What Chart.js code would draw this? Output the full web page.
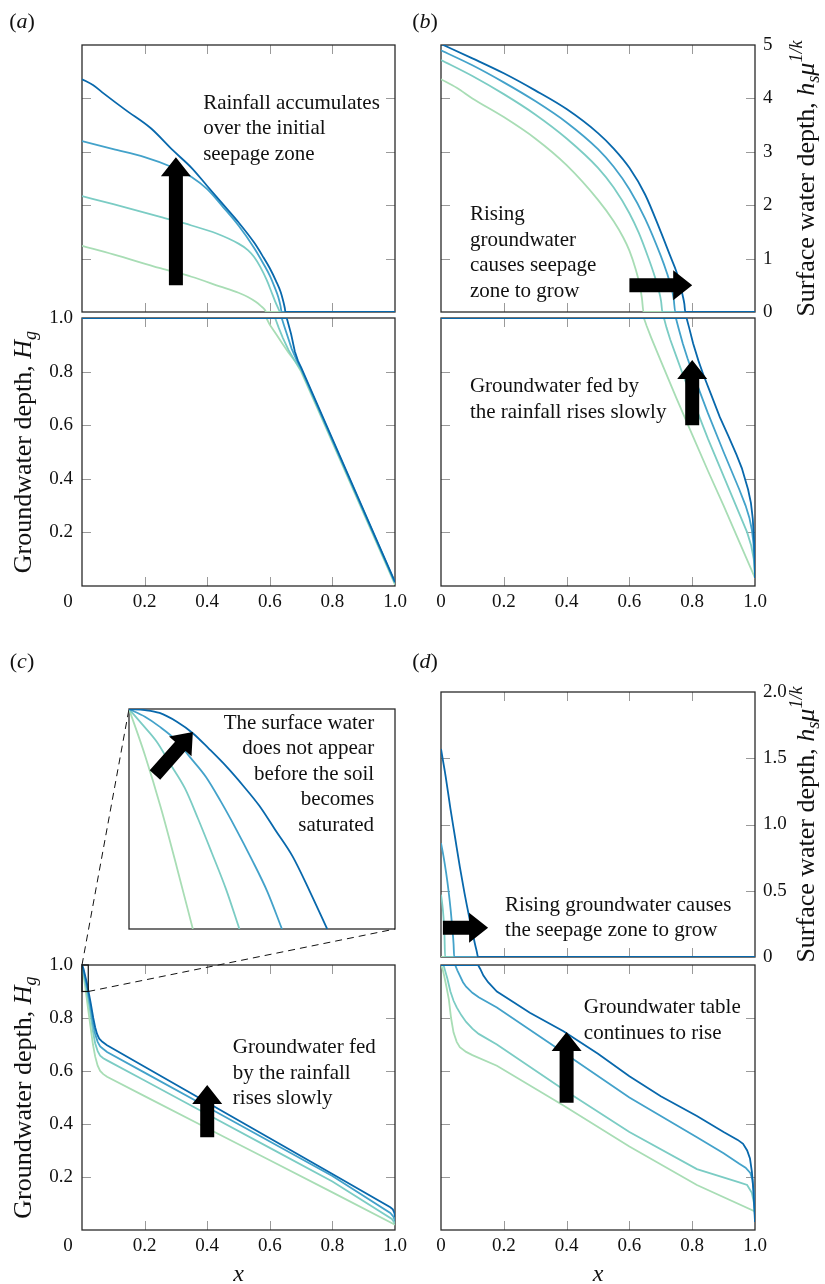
<!DOCTYPE html>
<html>
<head>
<meta charset="utf-8">
<script src="https://cdn.jsdelivr.net/npm/chart.js@4.4.1/dist/chart.umd.min.js"></script>
<style>
  body { margin: 0; background: #fff; }
  #wrap { position: relative; width: 825px; height: 1284px; }
  #wrap canvas { position: absolute; left: 0; top: 0; }
</style>
</head>
<body>
<div id="wrap">
  <canvas id="aTop" width="825" height="1284"></canvas>
  <canvas id="aBot" width="825" height="1284"></canvas>
  <canvas id="bTop" width="825" height="1284"></canvas>
  <canvas id="bBot" width="825" height="1284"></canvas>
  <canvas id="cBot" width="825" height="1284"></canvas>
  <canvas id="cIn" width="825" height="1284"></canvas>
  <canvas id="dTop" width="825" height="1284"></canvas>
  <canvas id="dBot" width="825" height="1284"></canvas>
</div>
<script>
// four times, earliest (light green) to latest (dark blue)
const seriesColors = ['#a8ddb5', '#7bccc4', '#43a2ca', '#0868ac'];

// (a) surface water depth, [x, h]
const aTopS1 = [[0,1.24],[0.1,1.08],[0.25,0.82],[0.35,0.66],[0.44,0.48],[0.5,0.36],[0.53,0.28],[0.555,0.19],[0.572,0.11],[0.583,0.05],[0.589,0],[1,0]];
const aTopS2 = [[0,2.17],[0.1,2.02],[0.25,1.78],[0.35,1.62],[0.43,1.47],[0.5,1.28],[0.53,1.16],[0.55,1.03],[0.57,0.84],[0.59,0.6],[0.605,0.38],[0.617,0.2],[0.627,0.07],[0.633,0],[1,0]];
const aTopS3 = [[0,3.2],[0.1,3.05],[0.2,2.9],[0.285,2.72],[0.35,2.53],[0.4,2.3],[0.45,1.97],[0.5,1.62],[0.55,1.2],[0.58,0.9],[0.6,0.68],[0.615,0.47],[0.627,0.28],[0.634,0.12],[0.638,0],[1,0]];
const aTopS4 = [[0,4.36],[0.035,4.25],[0.07,4.09],[0.14,3.78],[0.22,3.44],[0.29,3.03],[0.35,2.7],[0.4,2.36],[0.45,2.02],[0.5,1.68],[0.55,1.3],[0.58,1.02],[0.6,0.82],[0.62,0.58],[0.635,0.37],[0.643,0.2],[0.648,0.07],[0.65,0],[1,0]];
// (a) groundwater depth
const aBotS1 = [[0,1],[0.589,1],[0.6,0.975],[0.62,0.94],[0.64,0.905],[0.66,0.87],[0.68,0.84],[0.7,0.8],[0.75,0.668],[1,0.005]];
const aBotS2 = [[0,1],[0.617,1],[0.628,0.965],[0.642,0.925],[0.66,0.88],[0.68,0.84],[0.7,0.806],[1,0.01]];
const aBotS3 = [[0,1],[0.638,1],[0.646,0.97],[0.656,0.935],[0.67,0.885],[0.685,0.845],[0.7,0.811],[1,0.013]];
const aBotS4 = [[0,1],[0.654,1],[0.66,0.975],[0.668,0.94],[0.68,0.875],[0.69,0.84],[0.7,0.816],[1,0.015]];

// (b)
const bTopS1 = [[0,4.36],[0.05,4.2],[0.1,4.0],[0.2,3.65],[0.3,3.25],[0.4,2.75],[0.5,2.1],[0.55,1.7],[0.58,1.4],[0.6,1.15],[0.62,0.8],[0.633,0.5],[0.64,0.25],[0.645,0],[1,0]];
const bTopS2 = [[0,4.72],[0.1,4.42],[0.2,4.08],[0.3,3.7],[0.4,3.25],[0.5,2.7],[0.55,2.33],[0.6,1.85],[0.63,1.48],[0.66,1.02],[0.68,0.68],[0.693,0.42],[0.701,0.2],[0.705,0],[1,0]];
const bTopS3 = [[0,4.9],[0.1,4.62],[0.2,4.3],[0.3,3.95],[0.4,3.55],[0.5,3.05],[0.55,2.72],[0.6,2.3],[0.65,1.75],[0.7,1.05],[0.72,0.72],[0.733,0.47],[0.741,0.25],[0.746,0],[1,0]];
const bTopS4 = [[0,5.02],[0.1,4.75],[0.2,4.47],[0.3,4.15],[0.4,3.8],[0.5,3.35],[0.55,3.06],[0.6,2.7],[0.65,2.2],[0.7,1.5],[0.73,1.05],[0.75,0.75],[0.762,0.5],[0.77,0.3],[0.775,0.15],[0.778,0],[1,0]];
const bBotS1 = [[0,1],[0.646,1],[0.655,0.97],[0.67,0.925],[0.7,0.84],[0.75,0.7],[0.8,0.565],[0.85,0.43],[0.9,0.3],[0.95,0.165],[1,0.03]];
const bBotS2 = [[0,1],[0.71,1],[0.718,0.965],[0.73,0.92],[0.75,0.855],[0.77,0.79],[0.8,0.7],[0.85,0.55],[0.9,0.41],[0.95,0.27],[0.975,0.2],[0.988,0.15],[0.996,0.1],[1,0.04]];
const bBotS3 = [[0,1],[0.748,1],[0.757,0.96],[0.77,0.905],[0.785,0.85],[0.8,0.8],[0.85,0.645],[0.9,0.5],[0.95,0.36],[0.97,0.3],[0.982,0.255],[0.99,0.21],[0.995,0.16],[0.998,0.1],[1,0.03]];
const bBotS4 = [[0,1],[0.782,1],[0.79,0.965],[0.803,0.905],[0.82,0.84],[0.835,0.79],[0.86,0.715],[0.888,0.63],[0.915,0.56],[0.941,0.49],[0.958,0.44],[0.968,0.4],[0.978,0.36],[0.987,0.31],[0.993,0.25],[0.997,0.17],[0.9995,0.08],[1,0.03]];

// (c) inset: zoom of x 0..0.02, H 0.9..1.0
const cInS1 = [[0,1],[0.0012,0.979],[0.0024,0.955],[0.0036,0.928],[0.0048,0.9]];
const cInS2 = [[0,1],[0.001,0.993],[0.0021,0.985],[0.0031,0.975],[0.0042,0.964],[0.0052,0.95],[0.0062,0.935],[0.0073,0.918],[0.0083,0.9]];
const cInS3 = [[0,1],[0.0012,0.9965],[0.0023,0.992],[0.0035,0.986],[0.0046,0.978],[0.0058,0.969],[0.0069,0.958],[0.008,0.946],[0.0092,0.932],[0.0104,0.917],[0.0115,0.9]];
const cInS4 = [[0,1],[0.0012,0.9995],[0.0023,0.9982],[0.0036,0.9942],[0.0048,0.989],[0.006,0.982],[0.0073,0.974],[0.0086,0.965],[0.0098,0.956],[0.011,0.945],[0.0123,0.933],[0.0136,0.917],[0.0149,0.9]];
const zoomBoxX = [0, 0.02];
const zoomBoxY = [0.9, 1.0];
const cBotS1 = [[0,1],[0.005,0.96],[0.01,0.92],[0.015,0.875],[0.02,0.83],[0.028,0.76],[0.035,0.7],[0.042,0.655],[0.05,0.62],[0.058,0.6],[0.068,0.588],[0.08,0.578],[0.2,0.505],[0.4,0.384],[0.6,0.263],[0.8,0.142],[1,0.02]];
const cBotS2 = [[0,1],[0.005,0.97],[0.01,0.94],[0.015,0.905],[0.02,0.87],[0.028,0.81],[0.035,0.75],[0.042,0.705],[0.05,0.675],[0.058,0.658],[0.068,0.648],[0.08,0.64],[0.2,0.564],[0.4,0.437],[0.6,0.31],[0.8,0.183],[0.99,0.042],[1,0.025]];
const cBotS3 = [[0,1],[0.005,0.975],[0.01,0.95],[0.015,0.92],[0.02,0.89],[0.028,0.835],[0.035,0.78],[0.042,0.74],[0.05,0.71],[0.058,0.693],[0.068,0.683],[0.08,0.672],[0.2,0.594],[0.4,0.464],[0.6,0.334],[0.8,0.204],[0.985,0.064],[0.995,0.05],[1,0.035]];
const cBotS4 = [[0,1],[0.005,0.985],[0.01,0.96],[0.015,0.935],[0.02,0.905],[0.028,0.855],[0.036,0.8],[0.042,0.765],[0.048,0.74],[0.055,0.722],[0.065,0.71],[0.08,0.697],[0.2,0.616],[0.4,0.481],[0.6,0.346],[0.8,0.211],[0.985,0.086],[0.993,0.078],[0.998,0.065],[1,0.05]];

// (d)
const dTopS1 = [[0,0],[1,0]];
const dTopS2 = [[0,0.47],[0.004,0.4],[0.008,0.3],[0.011,0.17],[0.013,0],[1,0]];
const dTopS3 = [[0,0.86],[0.008,0.76],[0.016,0.64],[0.024,0.5],[0.031,0.35],[0.036,0.22],[0.04,0.1],[0.042,0],[1,0]];
const dTopS4 = [[0,1.57],[0.015,1.36],[0.03,1.12],[0.045,0.9],[0.06,0.68],[0.075,0.48],[0.09,0.3],[0.1,0.19],[0.108,0.1],[0.114,0.04],[0.118,0],[1,0]];
const dBotS1 = [[0,1],[0.005,0.985],[0.01,0.96],[0.017,0.92],[0.025,0.87],[0.032,0.8],[0.04,0.745],[0.05,0.71],[0.06,0.69],[0.08,0.672],[0.1,0.66],[0.178,0.62],[0.39,0.47],[0.6,0.315],[0.815,0.17],[1,0.07]];
const dBotS2 = [[0,1],[0.008,1],[0.014,0.975],[0.02,0.95],[0.03,0.9],[0.04,0.865],[0.05,0.84],[0.065,0.81],[0.08,0.785],[0.1,0.76],[0.12,0.74],[0.178,0.7],[0.39,0.53],[0.6,0.37],[0.815,0.23],[0.95,0.18],[0.975,0.17],[0.99,0.14],[0.997,0.1],[1,0.05]];
const dBotS3 = [[0,1],[0.045,1],[0.052,0.98],[0.06,0.96],[0.07,0.935],[0.08,0.918],[0.1,0.895],[0.12,0.878],[0.178,0.84],[0.39,0.67],[0.6,0.5],[0.815,0.35],[0.9,0.29],[0.95,0.25],[0.97,0.235],[0.985,0.215],[0.992,0.19],[0.996,0.14],[0.999,0.08],[1,0.05]];
const dBotS4 = [[0,1],[0.118,1],[0.125,0.985],[0.135,0.96],[0.15,0.935],[0.178,0.9],[0.23,0.86],[0.283,0.82],[0.39,0.75],[0.5,0.665],[0.6,0.58],[0.7,0.505],[0.815,0.43],[0.9,0.37],[0.945,0.34],[0.962,0.325],[0.975,0.3],[0.984,0.27],[0.99,0.22],[0.995,0.15],[0.998,0.08],[1,0.03]];

// tick values
const xTicks = [0.2, 0.4, 0.6, 0.8];
const gwTicks = [0.2, 0.4, 0.6, 0.8];
const swTicksB = [1, 2, 3, 4];
const swTicksD = [0.5, 1.0, 1.5];

const FONT = 'Liberation Serif';
const W = 825, H = 1284;
const TITLE_SIZE = 26;

function lineSeg(ctx, x1, y1, x2, y2) {
  ctx.beginPath(); ctx.moveTo(x1, y1); ctx.lineTo(x2, y2); ctx.stroke();
}

function drawArrow(ctx, x1, y1, x2, y2) {
  const ang = Math.atan2(y2 - y1, x2 - x1), len = Math.hypot(x2 - x1, y2 - y1);
  const sw = 7, hw = 15, hl = 19;
  ctx.save();
  ctx.translate(x1, y1); ctx.rotate(ang);
  ctx.beginPath();
  ctx.moveTo(0, -sw); ctx.lineTo(len - hl, -sw); ctx.lineTo(len - hl, -hw);
  ctx.lineTo(len, 0); ctx.lineTo(len - hl, hw); ctx.lineTo(len - hl, sw); ctx.lineTo(0, sw);
  ctx.closePath();
  ctx.fillStyle = '#000'; ctx.fill();
  ctx.restore();
}

// segments: [text, style] style n | i | isub | isup
function drawRich(ctx, segs, size, cx, cy, rotate) {
  ctx.save();
  ctx.translate(cx, cy);
  if (rotate) ctx.rotate(-Math.PI / 2);
  const parts = segs.map(([t, st]) => {
    const small = st === 'isub' || st === 'isup';
    const font = (st !== 'n' ? 'italic ' : '') + (small ? size * 0.7 : size) + 'px "' + FONT + '"';
    ctx.font = font;
    return { t, font, w: ctx.measureText(t).width, dy: st === 'isub' ? size * 0.28 : st === 'isup' ? -size * 0.38 : 0 };
  });
  let x = -parts.reduce((s, p) => s + p.w, 0) / 2;
  ctx.fillStyle = '#111'; ctx.textBaseline = 'middle'; ctx.textAlign = 'left';
  parts.forEach(p => { ctx.font = p.font; ctx.fillText(p.t, x, p.dy); x += p.w; });
  ctx.restore();
}

const gwTitle = [['Groundwater depth, ', 'n'], ['H', 'i'], ['g', 'isub']];
const swTitle = [['Surface water depth, ', 'n'], ['h', 'i'], ['s', 'isub'], ['\u03bc', 'i'], ['1/k', 'isup']];

function panelLabel(ctx, letter, x, y) {
  drawRich(ctx, [['(', 'n'], [letter, 'i'], [')', 'n']], 22, x, y, false);
}

function overlay(cfg) {
  return {
    id: 'overlay',
    beforeDatasetsDraw(chart) {
      const { ctx, chartArea: a } = chart;
      const xs = chart.scales.x, ys = chart.scales.y;
      ctx.save();
      ctx.strokeStyle = '#9a9a9a'; ctx.lineWidth = 1;
      (cfg.xt || []).forEach(v => {
        const p = Math.round(xs.getPixelForValue(v)) + 0.5;
        lineSeg(ctx, p, a.bottom, p, a.bottom - 9);
        lineSeg(ctx, p, a.top, p, a.top + 9);
      });
      (cfg.yt || []).forEach(v => {
        const p = Math.round(ys.getPixelForValue(v)) + 0.5;
        lineSeg(ctx, a.left, p, a.left + 9, p);
        lineSeg(ctx, a.right, p, a.right - 9, p);
      });
      ctx.strokeStyle = '#2a2a2a'; ctx.lineWidth = 1.3;
      ctx.strokeRect(a.left, a.top, a.right - a.left, a.bottom - a.top);
      ctx.restore();
    },
    afterDatasetsDraw(chart) {
      const { ctx } = chart;
      const xs = chart.scales.x, ys = chart.scales.y;
      (cfg.arrows || []).forEach(ar => drawArrow(ctx,
        xs.getPixelForValue(ar[0]), ys.getPixelForValue(ar[1]),
        xs.getPixelForValue(ar[2]), ys.getPixelForValue(ar[3])));
      (cfg.notes || []).forEach(n => {
        ctx.save();
        ctx.font = '21px "' + FONT + '"'; ctx.fillStyle = '#111';
        ctx.textBaseline = 'middle'; ctx.textAlign = n.align || 'left';
        const x0 = xs.getPixelForValue(n.x), y0 = ys.getPixelForValue(n.y);
        n.lines.forEach((t, i) => ctx.fillText(t, x0, y0 + i * 25.5));
        ctx.restore();
      });
      if (cfg.extra) cfg.extra(chart);
    }
  };
}

function build(id, series, box, cfg) {
  const tickFont = { family: FONT, size: 19 };
  const yRight = cfg.yPos === 'right';
  const yW = cfg.yLabels ? (yRight ? 60 : 70) : 0;
  const xH = cfg.xLabels ? 40 : 0;
  return new Chart(document.getElementById(id), {
    type: 'line',
    data: {
      datasets: series.map((pts, i) => ({
        data: pts.map(p => ({ x: p[0], y: p[1] })),
        borderColor: seriesColors[i],
        borderWidth: 1.8,
        pointRadius: 0,
        fill: false,
        tension: 0,
        cubicInterpolationMode: cfg.smooth ? 'monotone' : 'default',
        order: series.length - i
      }))
    },
    options: {
      responsive: false,
      animation: false,
      events: [],
      devicePixelRatio: 1,
      layout: {
        autoPadding: false,
        padding: {
          left: box[0] - (yRight ? 0 : yW),
          top: box[1],
          right: W - box[2] - (yRight ? yW : 0),
          bottom: H - box[3] - xH
        }
      },
      plugins: { legend: { display: false }, tooltip: { enabled: false } },
      scales: {
        x: {
          type: 'linear', position: 'bottom', min: cfg.xMin, max: cfg.xMax,
          grid: { display: false, drawTicks: false }, border: { display: false },
          ticks: {
            display: !!cfg.xLabels, stepSize: 0.2, autoSkip: false, maxRotation: 0, minRotation: 0,
            padding: 5, font: tickFont, color: '#111',
            callback: v => (v === 0 ? (cfg.xZero ? '0' : '') : v.toFixed(1))
          },
          afterFit: s => { s.height = xH; }
        },
        y: {
          type: 'linear', position: cfg.yPos || 'left', min: cfg.yMin, max: cfg.yMax,
          grid: { display: false, drawTicks: false }, border: { display: false },
          ticks: {
            display: !!cfg.yLabels, stepSize: cfg.yStep || 0.2, autoSkip: false,
            padding: yRight ? 8 : 9, font: tickFont, color: '#111',
            callback: cfg.yFmt || (v => (v === 0 ? '' : v.toFixed(1)))
          },
          afterFit: s => { s.width = yW; }
        }
      }
    },
    plugins: [overlay(cfg)]
  });
}

// (a)
build('aTop', [aTopS1, aTopS2, aTopS3, aTopS4], [82, 45, 395, 312], {
  xMin: 0, xMax: 1, yMin: 0, yMax: 5, xt: xTicks, yt: swTicksB, smooth: true,
  arrows: [[0.30, 0.5, 0.30, 2.9]],
  notes: [{ x: 0.387, y: 3.91, lines: ['Rainfall accumulates', 'over the initial', 'seepage zone'] }],
  extra: chart => panelLabel(chart.ctx, 'a', 22, 22)
});
build('aBot', [aBotS1, aBotS2, aBotS3, aBotS4], [82, 318, 395, 586], {
  xMin: 0, xMax: 1, yMin: 0, yMax: 1, xt: xTicks, yt: gwTicks, xLabels: true, yLabels: true,
  extra: chart => {
    const a = chart.chartArea, ctx = chart.ctx;
    drawRich(ctx, gwTitle, TITLE_SIZE, 24, (a.top + a.bottom) / 2, true);
    drawRich(ctx, [['0', 'n']], 19, a.left - 14, a.bottom + 16, false);
  }
});

// (b)
build('bTop', [bTopS1, bTopS2, bTopS3, bTopS4], [441, 45, 755, 312], {
  xMin: 0, xMax: 1, yMin: 0, yMax: 5, xt: xTicks, yt: swTicksB, smooth: true,
  yPos: 'right', yLabels: true, yStep: 1, yFmt: v => String(v),
  arrows: [[0.60, 0.5, 0.80, 0.5]],
  notes: [{ x: 0.092, y: 1.82, lines: ['Rising', 'groundwater', 'causes seepage', 'zone to grow'] }],
  extra: chart => {
    const a = chart.chartArea;
    drawRich(chart.ctx, swTitle, TITLE_SIZE, a.right + 52, (a.top + a.bottom) / 2, true);
    panelLabel(chart.ctx, 'b', 425, 22);
  }
});
build('bBot', [bBotS1, bBotS2, bBotS3, bBotS4], [441, 318, 755, 586], {
  xMin: 0, xMax: 1, yMin: 0, yMax: 1, xt: xTicks, yt: gwTicks, xLabels: true, xZero: true,
  arrows: [[0.80, 0.60, 0.80, 0.843]],
  notes: [{ x: 0.092, y: 0.743, lines: ['Groundwater fed by', 'the rainfall rises slowly'] }]
});

// (c)
const insetChart = build('cIn', [cInS1, cInS2, cInS3, cInS4], [129, 709, 395, 929], {
  xMin: zoomBoxX[0], xMax: zoomBoxX[1], yMin: zoomBoxY[0], yMax: zoomBoxY[1], smooth: true,
  arrows: [[0.00195, 0.97, 0.0048, 0.9895]],
  notes: [{ x: 0.01843, y: 0.9936, align: 'right', lines: ['The surface water', 'does not appear', 'before the soil', 'becomes', 'saturated'] }],
  extra: chart => panelLabel(chart.ctx, 'c', 22, 662)
});
build('cBot', [cBotS1, cBotS2, cBotS3, cBotS4], [82, 965, 395, 1230], {
  xMin: 0, xMax: 1, yMin: 0, yMax: 1, xt: xTicks, yt: gwTicks, xLabels: true, yLabels: true,
  arrows: [[0.40, 0.35, 0.40, 0.547]],
  notes: [{ x: 0.482, y: 0.687, lines: ['Groundwater fed', 'by the rainfall', 'rises slowly'] }],
  extra: chart => {
    const a = chart.chartArea, ctx = chart.ctx;
    const xs = chart.scales.x, ys = chart.scales.y;
    const bx0 = xs.getPixelForValue(zoomBoxX[0]), bx1 = xs.getPixelForValue(zoomBoxX[1]);
    const by0 = ys.getPixelForValue(zoomBoxY[1]), by1 = ys.getPixelForValue(zoomBoxY[0]);
    const ia = insetChart.chartArea;
    ctx.save();
    ctx.strokeStyle = '#111'; ctx.lineWidth = 1.2;
    ctx.strokeRect(bx0, by0, bx1 - bx0, by1 - by0);
    ctx.setLineDash([7, 5]); ctx.lineWidth = 1;
    lineSeg(ctx, bx0, by0, ia.left, ia.top);
    lineSeg(ctx, bx1, by1, ia.right, ia.bottom);
    ctx.restore();
    drawRich(ctx, gwTitle, TITLE_SIZE, 24, (a.top + a.bottom) / 2, true);
    drawRich(ctx, [['0', 'n']], 19, a.left - 14, a.bottom + 16, false);
    drawRich(ctx, [['x', 'i']], 24, (a.left + a.right) / 2, a.bottom + 45, false);
  }
});

// (d)
build('dTop', [dTopS1, dTopS2, dTopS3, dTopS4], [441, 692, 755, 957], {
  xMin: 0, xMax: 1, yMin: 0, yMax: 2, xt: xTicks, yt: swTicksD, smooth: true,
  yPos: 'right', yLabels: true, yStep: 0.5, yFmt: v => (v === 0 ? '0' : v.toFixed(1)),
  arrows: [[0.006, 0.22, 0.15, 0.22]],
  notes: [{ x: 0.204, y: 0.39, lines: ['Rising groundwater causes', 'the seepage zone to grow'] }],
  extra: chart => {
    const a = chart.chartArea;
    drawRich(chart.ctx, swTitle, TITLE_SIZE, a.right + 52, (a.top + a.bottom) / 2, true);
    panelLabel(chart.ctx, 'd', 425, 662);
  }
});
build('dBot', [dBotS1, dBotS2, dBotS3, dBotS4], [441, 965, 755, 1230], {
  xMin: 0, xMax: 1, yMin: 0, yMax: 1, xt: xTicks, yt: gwTicks, xLabels: true, xZero: true,
  arrows: [[0.40, 0.48, 0.40, 0.747]],
  notes: [{ x: 0.455, y: 0.838, lines: ['Groundwater table', 'continues to rise'] }],
  extra: chart => {
    const a = chart.chartArea;
    drawRich(chart.ctx, [['x', 'i']], 24, (a.left + a.right) / 2, a.bottom + 45, false);
  }
});
</script>
</body>
</html>
